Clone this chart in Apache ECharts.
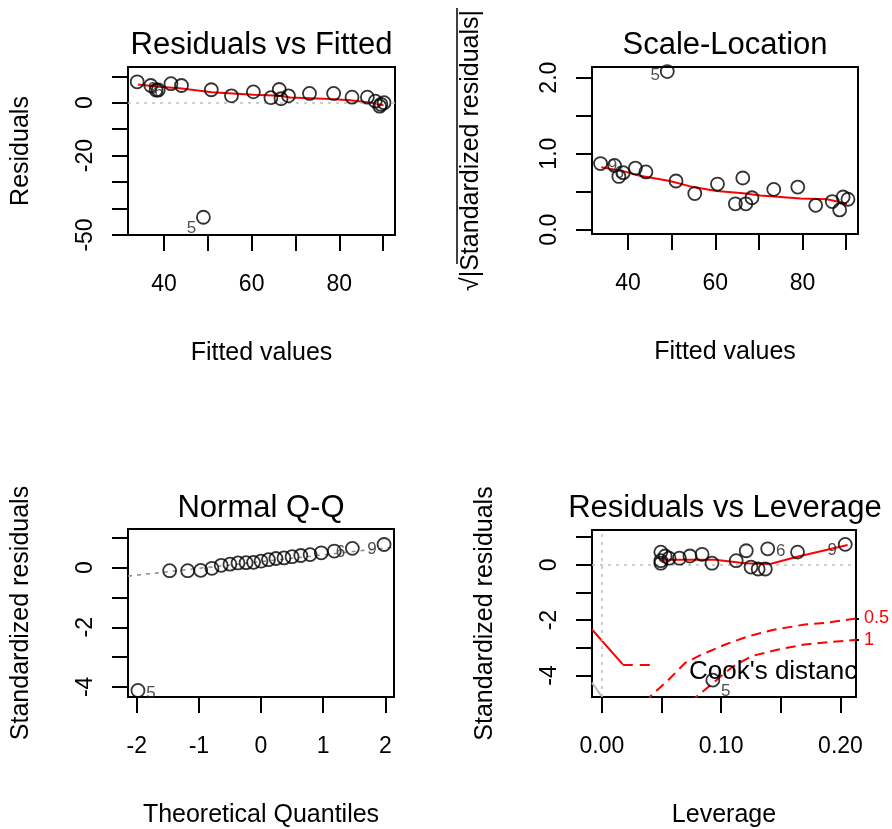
<!DOCTYPE html>
<html><head><meta charset="utf-8">
<script src="https://cdn.jsdelivr.net/npm/echarts@6/dist/echarts.min.js"></script>
<style>html,body{margin:0;padding:0;background:#fff}#c{width:892px;height:829px}</style>
</head><body><div id="c"></div>
<script>
// ---------- Panel 1: Residuals vs Fitted ----------
const fittedP1 = [33.9, 37.0, 38.2, 38.7, 41.6, 44.0, 49.0, 50.8, 55.4, 60.4, 64.4, 66.3, 66.7, 68.4, 73.2, 78.7, 82.9, 86.4, 88.2, 89.2, 89.5, 90.2];
const residP1  = [7.9, 6.5, 4.8, 4.8, 7.2, 6.5, -43.3, 4.9, 2.6, 4.1, 1.9, 5.0, 1.5, 2.6, 3.5, 3.5, 2.1, 2.1, 0.6, -1.3, -0.6, 0.0];
const idP1 = {6: '5', 1: '9', 2: '6'};
const smoothP1X = [34.1, 38.7, 43.6, 50.9, 60.4, 66.5, 68.8, 77.9, 82.5, 87.8, 90.1];
const smoothP1Y = [6.9, 6.0, 5.5, 4.0, 3.0, 2.6, 2.0, 1.4, 0.9, -0.1, -1.0];
const ticksP1X = [40, 50, 60, 70, 80, 90], labsP1X = [40, 60, 80];
const ticksP1Y = [10, 0, -10, -20, -30, -40, -50], labsP1Y = [0, -20, -50];

// ---------- Panel 2: Scale-Location ----------
const fittedP2 = [33.7, 36.9, 37.9, 38.9, 41.7, 44.1, 49.0, 51.0, 55.3, 60.5, 64.6, 66.3, 67.0, 68.4, 73.4, 78.9, 83.0, 86.8, 88.5, 89.3, 90.4];
const sqrtP2   = [0.87, 0.845, 0.70, 0.75, 0.81, 0.76, 2.08, 0.64, 0.475, 0.60, 0.34, 0.68, 0.34, 0.42, 0.53, 0.56, 0.32, 0.37, 0.26, 0.43, 0.40];
const idP2 = {6: '5', 1: '9', 3: '6'};
const smoothP2X = [33.9, 38.9, 42.7, 49.6, 54.9, 60.3, 66.4, 70.3, 79.5, 85.6, 90.2];
const smoothP2Y = [0.82, 0.77, 0.71, 0.64, 0.56, 0.51, 0.48, 0.45, 0.41, 0.40, 0.34];
const ticksP2X = [40, 50, 60, 70, 80, 90], labsP2X = [40, 60, 80];
const ticksP2Y = [0, 0.5, 1, 1.5, 2], labsP2Y = [0, 1, 2];

// ---------- Panel 3: Normal Q-Q ----------
const theoQ  = [-1.98, -1.47, -1.18, -0.97, -0.79, -0.64, -0.50, -0.37, -0.24, -0.12, 0, 0.12, 0.24, 0.37, 0.50, 0.64, 0.79, 0.97, 1.18, 1.47, 1.98];
const stdResQ = [-4.12, -0.10, -0.10, -0.09, -0.02, 0.08, 0.12, 0.16, 0.17, 0.18, 0.22, 0.27, 0.31, 0.33, 0.37, 0.41, 0.44, 0.50, 0.56, 0.65, 0.78];
const idP3 = {0: '5', 19: '6', 20: '9'};
const qqLineX = [-2.14, 2.14], qqLineY = [-0.28, 0.69];
const ticksP3X = [-2, -1, 0, 1, 2], labsP3X = [-2, -1, 0, 1, 2];
const ticksP3Y = [1, 0, -1, -2, -3, -4], labsP3Y = [0, -2, -4];

// ---------- Panel 4: Residuals vs Leverage ----------
const leverage = [0.0494, 0.0494, 0.0494, 0.053, 0.0563, 0.065, 0.0738, 0.084, 0.0923, 0.093, 0.1126, 0.121, 0.125, 0.131, 0.137, 0.139, 0.164, 0.204];
const stdResL  = [0.46, 0.15, 0.06, 0.32, 0.24, 0.24, 0.32, 0.38, 0.06, -4.17, 0.15, 0.51, -0.08, -0.15, -0.15, 0.58, 0.46, 0.74];
const idP4 = {9: '5', 15: '6', 17: '9'};
const smoothP4X = [0.049, 0.095, 0.12, 0.141, 0.1645, 0.206];
const smoothP4Y = [0.18, 0.18, 0.06, 0.03, 0.30, 0.72];
const cook05X = [0.037, 0.041, 0.0563, 0.070, 0.084, 0.1035, 0.123, 0.145, 0.170, 0.187, 0.2136];
const cook05Y = [-5.0, -4.74, -4.14, -3.54, -3.24, -2.88, -2.58, -2.34, -2.16, -2.10, -1.94];
const cook1X  = [0.075, 0.080, 0.092, 0.109, 0.1256, 0.148, 0.170, 0.192, 0.2136];
const cook1Y  = [-5.0, -4.74, -4.32, -3.70, -3.30, -3.06, -2.88, -2.79, -2.71];
const cookLevels = ['0.5', '1'];
const cookEnds = [-1.94, -2.71];
const redSolidX = [-0.0083, 0.0175], redSolidY = [-2.34, -3.6];
const redDashX = [0.0175, 0.0453], redDashY = [-3.62, -3.62];
const graySegX = [-0.0083, -0.0005], graySegY = [-4.26, -4.74];
const ticksP4X = [0, 0.05, 0.1, 0.15, 0.2], labsP4X = [0, 0.1, 0.2];
const ticksP4Y = [1, 0, -1, -2, -3, -4], labsP4Y = [0, -2, -4];

// ---------- helpers ----------
const FONT = '"Liberation Sans", Arial, Helvetica, sans-serif';
const zip = (a, b) => a.map((v, i) => [v, b[i]]);
const labOffsets = { // label placement relative to point (style)
  p1: {6: [-12, 11], 1: [2, 4], 2: [3, 2]},
  p2: {6: [-12, 4], 1: [-2, 1], 3: [-4, 1]},
  p3: {0: [13, 3], 19: [-12, 4], 20: [-12, 5]},
  p4: {9: [13, 11], 15: [13, 3], 17: [-13, 6]}
};
function pts(xs, ys, ids, offs) {
  return xs.map((x, i) => ids[i] ? {
    value: [x, ys[i]],
    label: {show: true, position: 'inside', formatter: ids[i], offset: offs[i] || [0, 0],
            fontSize: 17, color: '#222', fontFamily: FONT}
  } : [x, ys[i]]);
}
function xAx(gi, min, max, ticks, labs, fmt, name) {
  return {type: 'value', gridIndex: gi, min, max, position: 'bottom',
    axisLine: {show: false, onZero: false}, splitLine: {show: false},
    axisTick: {show: true, length: 16, customValues: ticks, lineStyle: {color: '#000', width: 2}},
    axisLabel: {show: true, customValues: labs, margin: 38, formatter: fmt, color: '#000', fontSize: 23, fontFamily: FONT},
    name, nameLocation: 'middle', nameGap: 106, nameTextStyle: {fontSize: 25, color: '#000', fontFamily: FONT}};
}
function yAx(gi, min, max, ticks, labs, fmt, name, gap) {
  return {type: 'value', gridIndex: gi, min, max, position: 'left',
    axisLine: {show: false, onZero: false}, splitLine: {show: false},
    axisTick: {show: true, length: 16, customValues: ticks, lineStyle: {color: '#000', width: 2}},
    axisLabel: {show: true, customValues: labs, margin: 31, rotate: 90, formatter: fmt, color: '#000', fontSize: 23, fontFamily: FONT},
    name, nameLocation: 'middle', nameGap: gap, nameTextStyle: {fontSize: 25, color: '#000', fontFamily: FONT}};
}
const circ = {color: 'rgba(0,0,0,0)', borderColor: '#000', borderWidth: 1.8};
function scatter(xi, data, extra) {
  return Object.assign({type: 'scatter', xAxisIndex: xi, yAxisIndex: xi, data, symbol: 'circle', symbolSize: 13,
    itemStyle: circ, emphasis: {disabled: true}, silent: true, z: 5}, extra || {});
}
function line(xi, yi, data, color, width, type, z) {
  return {type: 'line', xAxisIndex: xi, yAxisIndex: yi, data, symbol: 'none', showSymbol: false,
    lineStyle: {color, width, type}, silent: true, z: z || 3, clip: true, animation: false};
}
const zeroLine = (axis) => ({silent: true, symbol: 'none', label: {show: false},
  lineStyle: {color: '#BEBEBE', type: [3, 5], width: 1.5}, data: axis, animation: false});
const str = v => String(v);

const chart = echarts.init(document.getElementById('c'), null, {renderer: 'canvas'});
chart.setOption({
  animation: false,
  backgroundColor: '#fff',
  grid: [
    {left: 128, top: 67, width: 267, height: 168},
    {left: 592, top: 67, width: 266, height: 167},
    {left: 128, top: 529, width: 266, height: 168},
    {left: 592, top: 530, width: 266, height: 168}
  ].map(g => Object.assign(g, {show: true, borderColor: '#000', borderWidth: 2, backgroundColor: 'transparent'})),
  xAxis: [
    xAx(0, 31.8, 92.7, ticksP1X, labsP1X, str, 'Fitted values'),
    xAx(1, 31.75, 92.7, ticksP2X, labsP2X, str, 'Fitted values'),
    xAx(2, -2.14, 2.14, ticksP3X, labsP3X, str, 'Theoretical Quantiles'),
    xAx(3, -0.0083, 0.2130, ticksP4X, labsP4X, v => v.toFixed(2), 'Leverage')
  ],
  yAxis: [
    yAx(0, -50, 13.5, ticksP1Y, labsP1Y, str, 'Residuals', 94),
    yAx(1, -0.057, 2.14, ticksP2Y, labsP2Y, v => v.toFixed(1), '\u221A|Standardized residuals|', 108),
    yAx(2, -4.34, 1.3, ticksP3Y, labsP3Y, str, 'Standardized residuals', 94),
    yAx(3, -4.78, 1.26, ticksP4Y, labsP4Y, str, 'Standardized residuals', 94),
    {type: 'value', gridIndex: 3, min: -4.78, max: 1.26, position: 'right',
      axisLine: {show: false, onZero: false}, splitLine: {show: false},
      axisTick: {show: true, length: 3, customValues: cookEnds, lineStyle: {color: '#000', width: 2}},
      axisLabel: {show: true, customValues: cookEnds, margin: 8, color: '#FF0000', fontSize: 18, fontFamily: FONT,
        formatter: v => { const i = cookEnds.findIndex(e => Math.abs(e - v) < 1e-6); return i >= 0 ? cookLevels[i] : ''; }}}
  ],
  series: [
    // Panel 1
    scatter(0, pts(fittedP1, residP1, idP1, labOffsets.p1), {markLine: zeroLine([{yAxis: 0}])}),
    line(0, 0, zip(smoothP1X, smoothP1Y), '#FF0000', 2, 'solid', 4),
    // Panel 2
    scatter(1, pts(fittedP2, sqrtP2, idP2, labOffsets.p2)),
    line(1, 1, zip(smoothP2X, smoothP2Y), '#FF0000', 2, 'solid', 4),
    // Panel 3
    scatter(2, pts(theoQ, stdResQ, idP3, labOffsets.p3)),
    line(2, 2, zip(qqLineX, qqLineY), '#8C8C8C', 1.5, [4, 5], 2),
    // Panel 4
    scatter(3, pts(leverage, stdResL, idP4, labOffsets.p4), {markLine: zeroLine([{yAxis: 0}, {xAxis: 0}])}),
    line(3, 3, zip(smoothP4X, smoothP4Y), '#FF0000', 2, 'solid', 4),
    line(3, 3, zip(cook05X, cook05Y), '#FF0000', 2, [10, 6], 4),
    line(3, 3, zip(cook1X, cook1Y), '#FF0000', 2, [10, 6], 4),
    line(3, 3, zip(redSolidX, redSolidY), '#FF0000', 2, 'solid', 4),
    line(3, 3, zip(redDashX, redDashY), '#FF0000', 2, [10, 7], 4),
    line(3, 3, zip(graySegX, graySegY), '#BEBEBE', 2, 'solid', 4)
  ],
  graphic: [
    {type: 'text', x: 261.5, y: 45, style: {text: 'Residuals vs Fitted', font: '31px ' + FONT, fill: '#000', textAlign: 'center', textVerticalAlign: 'middle'}},
    {type: 'text', x: 725, y: 45, style: {text: 'Scale-Location', font: '31px ' + FONT, fill: '#000', textAlign: 'center', textVerticalAlign: 'middle'}},
    {type: 'text', x: 261, y: 508, style: {text: 'Normal Q-Q', font: '31px ' + FONT, fill: '#000', textAlign: 'center', textVerticalAlign: 'middle'}},
    {type: 'text', x: 725, y: 508, style: {text: 'Residuals vs Leverage', font: '31px ' + FONT, fill: '#000', textAlign: 'center', textVerticalAlign: 'middle'}},
    {type: 'text', x: 689, y: 672, z: 10, style: {text: "Cook's distance", font: '26px ' + FONT, fill: '#000', textAlign: 'left', textVerticalAlign: 'middle', width: 176, overflow: 'truncate', ellipsis: ''}},
    {type: 'line', shape: {x1: 457, y1: 8, x2: 457, y2: 264}, style: {stroke: '#000', lineWidth: 1.5}}
  ]
});
</script></body></html>
